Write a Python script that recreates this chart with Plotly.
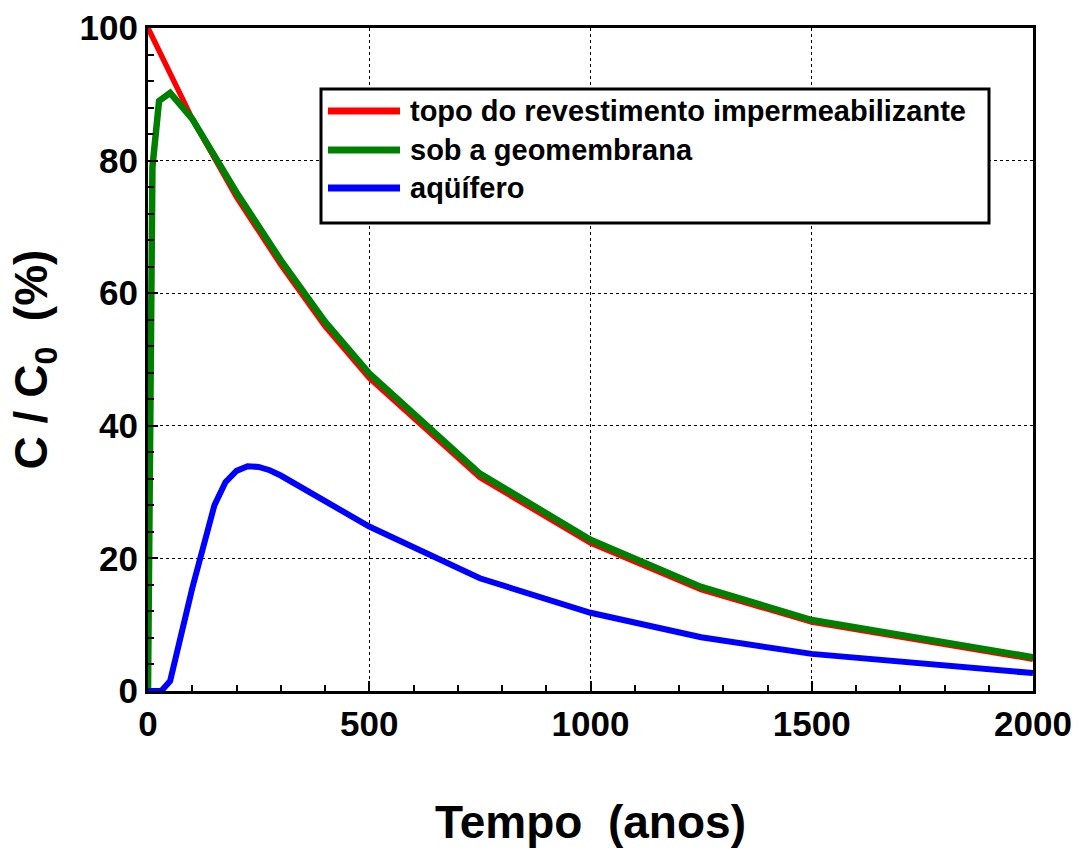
import plotly.graph_objects as go

# Data
series_names = ["topo do revestimento impermeabilizante", "sob a geomembrana", "aqüífero"]

t_top = [0, 50, 100, 200, 300, 400, 500, 750, 1000, 1250, 1500, 2000]
c_top = [100, 93, 86.3, 74.5, 64.3, 55.0, 47.2, 32.2, 22.3, 15.3, 10.4, 4.8]

t_geo = [0, 10, 25, 50, 100, 200, 300, 400, 500, 750, 1000, 1250, 1500, 2000]
c_geo = [0, 79, 89, 90.2, 86.3, 75.2, 65.0, 55.7, 47.9, 32.8, 22.8, 15.7, 10.7, 5.1]

t_aq = [0, 30, 50, 100, 150, 175, 200, 225, 250, 275, 300, 400, 500, 750, 1000, 1250, 1500, 2000]
c_aq = [0, 0, 1.5, 15.5, 28.0, 31.5, 33.2, 33.9, 33.8, 33.3, 32.5, 28.6, 24.8, 17.0, 11.8, 8.1, 5.6, 2.7]

colors = ["#ff0000", "#008000", "#0000ff"]
widths = [5.5, 6.5, 6]

x_ticks = [0, 500, 1000, 1500, 2000]
y_ticks = [0, 20, 40, 60, 80, 100]

FONT = "Liberation Sans, Arial, sans-serif"

fig = go.Figure()
for (tx, cy), name, col, w in zip([(t_top, c_top), (t_geo, c_geo), (t_aq, c_aq)],
                                  series_names, colors, widths):
    fig.add_trace(go.Scatter(x=tx, y=cy, mode="lines", name=name, showlegend=False,
                             line=dict(color=col, width=w)))

axis_common = dict(
    showline=True, linecolor="black", linewidth=3, mirror=True,
    ticks="inside", ticklen=10, tickwidth=2, tickcolor="black",
    showgrid=True, gridcolor="black", gridwidth=1, griddash="dot",
    zeroline=False,
    tickfont=dict(family=FONT, size=35, color="black", weight="bold"),
)

fig.update_xaxes(range=[0, 2000], tickvals=x_ticks, ticktext=[str(v) for v in x_ticks],
                 minor=dict(ticks="inside", ticklen=6, tickwidth=1.5, tickcolor="black", dtick=100, showgrid=False),
                 title=dict(text="Tempo  (anos)", standoff=64,
                            font=dict(family=FONT, size=46, color="black", weight="bold")),
                 **axis_common)
fig.update_yaxes(range=[0, 100], tickvals=y_ticks, ticktext=[str(v) for v in y_ticks],
                 minor=dict(ticks="inside", ticklen=6, tickwidth=1.5, tickcolor="black", dtick=4, showgrid=False),
                 title=dict(text="C / C<sub>0</sub>  (%)", standoff=18,
                            font=dict(family=FONT, size=46, color="black", weight="bold")),
                 **axis_common)

# Legend drawn as a framed box with line samples and labels (paper coordinates)
L, R, T, B = 148, 1033, 28, 691
def px(x):
    return (x - L) / (R - L)
def py(y):
    return (B - y) / (B - T)

fig.add_shape(type="rect", xref="paper", yref="paper",
              x0=px(321), x1=px(989), y0=py(89), y1=py(223),
              line=dict(color="black", width=3), fillcolor="white", layer="above")
row_y = [111, 150, 188]
for name, col, yy in zip(series_names, colors, row_y):
    fig.add_shape(type="line", xref="paper", yref="paper",
                  x0=px(328), x1=px(400), y0=py(yy), y1=py(yy),
                  line=dict(color=col, width=7), layer="above")
    fig.add_annotation(xref="paper", yref="paper", x=px(408), y=py(yy),
                       xanchor="left", yanchor="middle", showarrow=False,
                       text=name,
                       font=dict(family=FONT, size=29, color="black", weight="bold"))

fig.update_layout(
    width=1080, height=857,
    margin=dict(l=148, r=47, t=28, b=166, autoexpand=False),
    paper_bgcolor="white", plot_bgcolor="white",
    showlegend=False,
)

fig.write_html("out.html")
